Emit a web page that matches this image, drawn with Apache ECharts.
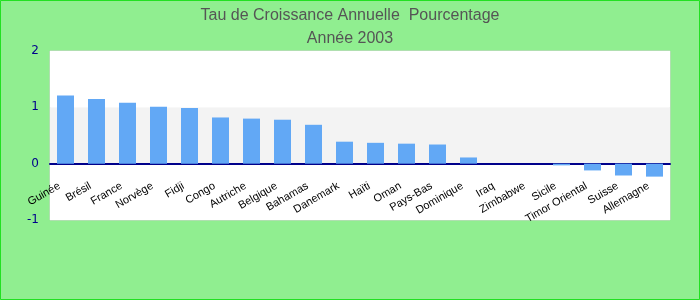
<!DOCTYPE html>
<html><head><meta charset="utf-8">
<script src="https://cdn.jsdelivr.net/npm/echarts@6/dist/echarts.min.js"></script>
<style>html,body{margin:0;padding:0;background:#90EE90;}#c{width:700px;height:300px;}</style>
</head><body><div id="c"></div>
<script>
var categories = ['Guinée','Brésil','France','Norvège','Fidji','Congo','Autriche','Belgique','Bahamas','Danemark','Haïti','Oman','Pays-Bas','Dominique','Iraq','Zimbabwe','Sicile','Timor Oriental','Suisse','Allemagne'];
var values = [1.21,1.15,1.08,1.01,0.99,0.82,0.80,0.78,0.69,0.39,0.37,0.355,0.34,0.11,0,0,-0.03,-0.12,-0.21,-0.23];
var yTicks = [-1,0,1,2];
var titleText = 'Tau de Croissance Annuelle  Pourcentage';
var subTitleText = 'Année 2003';

var gridTop = 51, gridBottom = 80, H = 300;
var yMin = yTicks[0], yMax = yTicks[yTicks.length - 1];
var plotH = H - gridTop - gridBottom;
var zeroOffset = -plotH * (0 - yMin) / (yMax - yMin);

var chart = echarts.init(document.getElementById('c'));
chart.setOption({
  backgroundColor: '#90EE90',
  animation: false,
  title: {
    text: titleText, subtext: subTitleText, left: 'center', top: 3, itemGap: 7,
    textStyle: {fontFamily: 'Liberation Sans', fontSize: 16, fontWeight: 'normal', color: '#555555'},
    subtextStyle: {fontFamily: 'Liberation Sans', fontSize: 16, color: '#555555'}
  },
  graphic: [{type: 'rect', shape: {x: 0.5, y: 0.5, width: 699, height: 299}, style: {fill: 'none', stroke: '#22e022', lineWidth: 1}, silent: true, z: 100}],
  grid: {left: 50, right: 30, top: gridTop, bottom: gridBottom, show: true, borderColor: '#d0d0d0', borderWidth: 1, backgroundColor: '#ffffff'},
  xAxis: {
    type: 'category', data: categories, offset: zeroOffset,
    axisLine: {onZero: false, lineStyle: {color: '#00008B', width: 2}},
    axisTick: {show: false},
    axisLabel: {rotate: 30, interval: 0, color: '#000', fontFamily: 'Liberation Sans', fontSize: 11, margin: 18, padding: [0, 7, 0, 0]}
  },
  yAxis: {
    type: 'value', min: yMin, max: yMax, interval: 1,
    axisLine: {show: false}, axisTick: {show: false}, splitLine: {show: false},
    splitArea: {show: true, areaStyle: {color: ['#ffffff', '#f3f3f3']}},
    axisLabel: {color: '#00008B', fontFamily: 'DejaVu Sans', fontSize: 12, margin: 11}
  },
  series: [{type: 'bar', data: values, barWidth: 17, itemStyle: {color: '#62A8F5'}}]
});
</script></body></html>
